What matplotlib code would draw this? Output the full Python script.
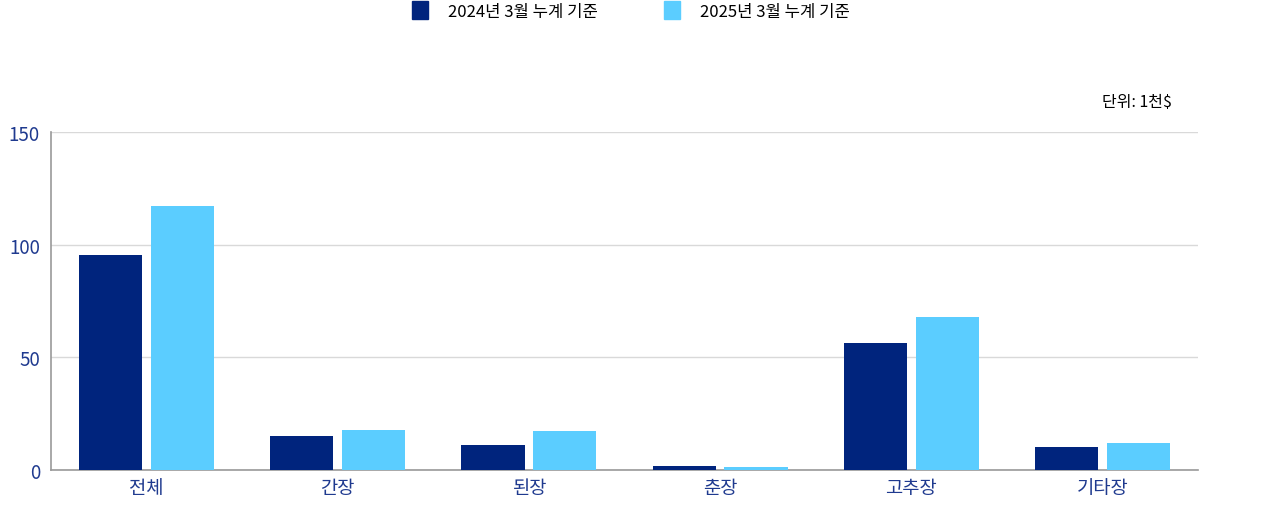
import numpy as np
import matplotlib
matplotlib.use("Agg")
import matplotlib.pyplot as plt
from matplotlib.patches import Patch

plt.rcParams['font.family'] = ['Noto Sans CJK KR', 'DejaVu Sans']

# data
categories = ['전체', '간장', '된장', '춘장', '고추장', '기타장']
values_2024 = [95.3, 14.9, 11.1, 1.8, 56.4, 10.4]
values_2025 = [117.3, 17.8, 17.4, 1.3, 68.0, 11.9]
series_names = ['2024년 3월 누계 기준', '2025년 3월 누계 기준']

dark = '#00247D'
light = '#5BCDFF'
tick_color = '#1F3A8F'

fig = plt.figure(figsize=(12.8, 5.06), dpi=100)
ax = fig.add_axes([51 / 1280, 35 / 506, (1198 - 51) / 1280, (471 - 133) / 506])

x = np.arange(len(categories))
w = 0.33
ax.bar(x - 0.188, values_2024, w, color=dark, zorder=3)
ax.bar(x + 0.188, values_2025, w, color=light, zorder=3)

ax.set_xlim(-0.5, len(categories) - 0.5)
ax.set_ylim(0, 150)
ax.set_yticks([0, 50, 100, 150])
ax.set_xticks(x)
ax.set_xticklabels(categories)
ax.tick_params(axis='both', length=0, labelsize=13.5, labelcolor=tick_color)
ax.tick_params(axis='y', pad=8)
ax.tick_params(axis='x', pad=5)
ax.grid(axis='y', color='#d9d9d9', linewidth=1, zorder=0)

for s in ['top', 'right']:
    ax.spines[s].set_visible(False)
for s in ['left', 'bottom']:
    ax.spines[s].set_color('#999999')
    ax.spines[s].set_linewidth(1.2)

fig.text(1172 / 1280, 1 - 103 / 506, '단위: 1천$', ha='right', va='center', fontsize=11.5)

handles = [Patch(color=dark), Patch(color=light)]
fig.legend(handles, series_names, loc='upper center', bbox_to_anchor=(0.493, 1.025),
           ncol=2, frameon=False, fontsize=12, handlelength=0.95, handleheight=1.25,
           columnspacing=4.0, handletextpad=1.2)

fig.savefig('out.png', dpi=100)
